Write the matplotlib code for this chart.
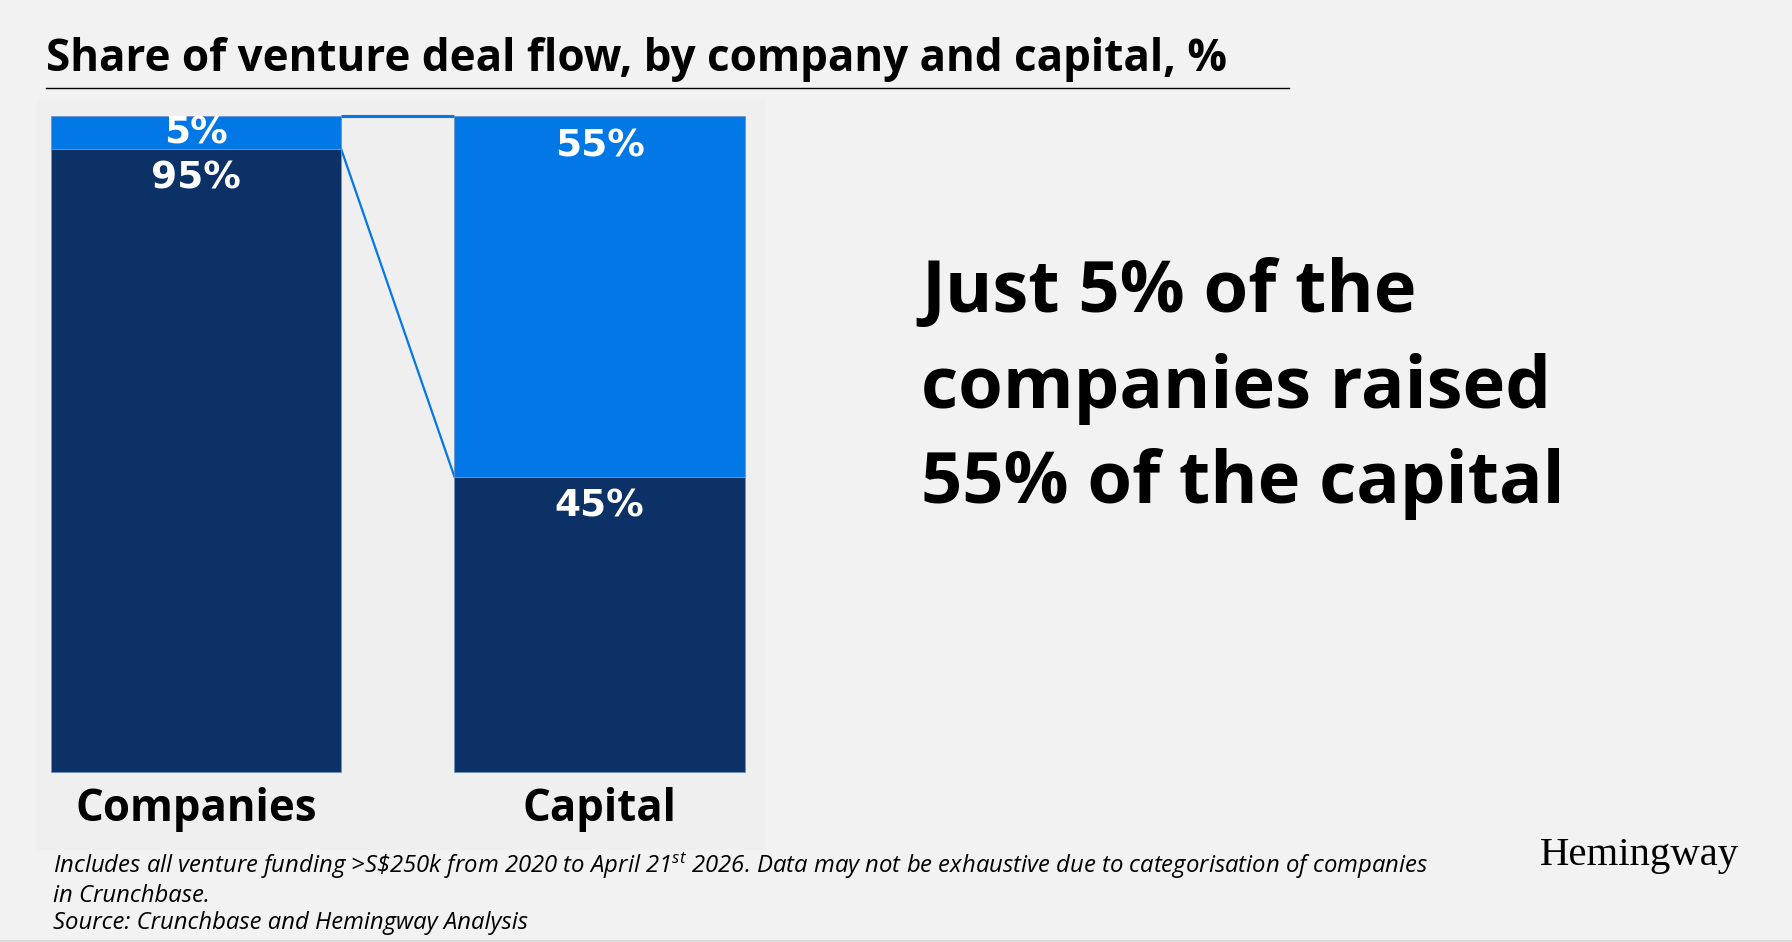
import matplotlib
matplotlib.use("Agg")
import matplotlib.pyplot as plt
from matplotlib.lines import Line2D
from matplotlib.patches import Rectangle

# ---- data ----
categories = ["Companies", "Capital"]
rest_share = [95, 45]      # bottom segment (dark)
top_share = [5, 55]        # top segment (bright)

title = "Share of venture deal flow, by company and capital, %"
headline = ["Just 5% of the", "companies raised", "55% of the capital"]
footnote_1 = r"Includes all venture funding >S\$250k from 2020 to April 21$^{\mathit{st}}$ 2026. Data may not be exhaustive due to categorisation of companies"
footnote_2 = "in Crunchbase."
footnote_3 = "Source: Crunchbase and Hemingway Analysis"
brand = "Hemingway"

# ---- style ----
DARK = "#0b3166"
BRIGHT = "#0278e7"
FIG_BG = "#f2f2f2"
PANEL_BG = "#efefef"
W, H = 1792, 942

plt.rcParams["mathtext.fontset"] = "custom"
plt.rcParams["mathtext.it"] = "Open Sans:italic"
plt.rcParams["mathtext.rm"] = "Open Sans"

fig = plt.figure(figsize=(W / 100, H / 100), dpi=100, facecolor=FIG_BG)

def fx(px):
    return px / W

def fy(py):
    return 1 - py / H

# bottom strip
fig.patches.append(Rectangle((0, 0), 1, 2.5 / H, transform=fig.transFigure,
                             facecolor="#d9d9d9", edgecolor="none"))

# title + rule
fig.text(fx(46), fy(71), title, fontsize=31.7, fontweight="bold",
         family="Open Sans", ha="left", va="baseline", color="black")
fig.add_artist(Line2D([fx(46), fx(1289)], [fy(88), fy(88)], color="black",
                      lw=1.0, transform=fig.transFigure))

# panel background
fig.patches.append(Rectangle((fx(37), fy(850)), fx(765 - 37), (850 - 100) / H,
                             transform=fig.transFigure, facecolor=PANEL_BG,
                             edgecolor="none", zorder=-1))

# ---- bar panel ----
ax = fig.add_axes([fx(37), fy(850), fx(765 - 37), (850 - 100) / H])
bar_w = 0.719
x = list(range(len(categories)))
ax.bar(x, rest_share, width=bar_w, color=DARK, edgecolor="#6d93c8",
       linewidth=0.6, zorder=3)
ax.bar(x, top_share, width=bar_w, bottom=rest_share, color=BRIGHT,
       edgecolor="#6d93c8", linewidth=0.6, zorder=3)

# connectors between the segments
x0 = x[0] + bar_w / 2
x1 = x[1] - bar_w / 2
tot0 = rest_share[0] + top_share[0]
tot1 = rest_share[1] + top_share[1]
ax.plot([x0, x1], [tot0, tot1], color=BRIGHT, lw=2.2, zorder=2,
        solid_capstyle="butt")
ax.plot([x0, x1], [rest_share[0], rest_share[1]], color=BRIGHT, lw=1.6,
        zorder=2)

# value labels
for i in x:
    segs = [(0, rest_share[i]), (rest_share[i], top_share[i])]
    for bottom, h in segs:
        top = bottom + h
        y = top - 2.7 if h < 10 else top - 4.6
        ax.text(i, y, f"{h:g}%", ha="center", va="center", color="white",
                fontsize=27, fontweight="bold", family="DejaVu Sans", zorder=5)

# category labels
for i, c in zip(x, categories):
    ax.text(i, -5.64, c, ha="center", va="center", fontsize=31.5,
            fontweight="bold", family="Open Sans", color="black")

ax.set_xlim(-0.394, 1.410)
ax.set_ylim(-11.89, 102.44)
ax.set_axis_off()

# headline
for line, base in zip(headline, [312, 408, 503]):
    fig.text(fx(921), fy(base), line, fontsize=52, fontweight="bold",
             family="Open Sans", ha="left", va="baseline", color="black")

# footnotes
for line, base in zip([footnote_1, footnote_2, footnote_3], [873, 902, 929]):
    fig.text(fx(53), fy(base), line, fontsize=17.2, fontstyle="italic",
             family="Open Sans", ha="left", va="baseline", color="black")

# brand
fig.text(fx(1540), fy(865), brand, fontsize=29.3, family="Liberation Serif",
         ha="left", va="baseline", color="black")

fig.savefig("out.png", dpi=100, facecolor=FIG_BG)
